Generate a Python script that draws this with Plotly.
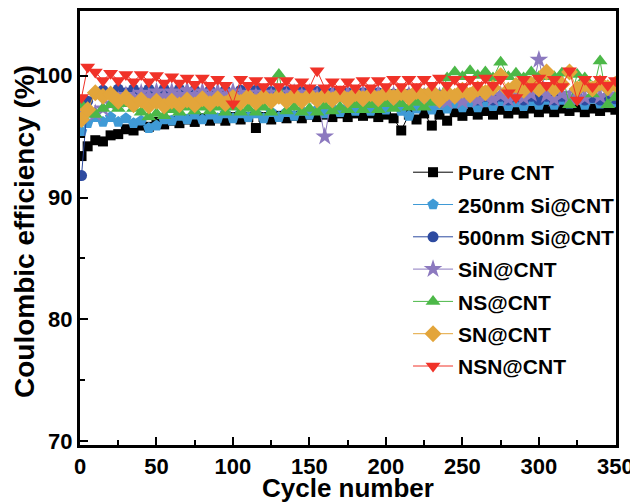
import plotly.graph_objects as go

cycles = [1] + list(range(5, 351, 5))

pure_cnt = [93.4, 94.2, 94.7, 94.6, 95.1, 95.2, 95.6, 95.5, 95.9, 95.8, 96.2, 96.0, 96.3, 96.1, 96.4,
            96.2, 96.5, 96.3, 96.5, 96.3, 96.6, 96.4, 96.6, 95.7, 96.6, 96.4, 96.7, 96.5, 96.7, 96.5,
            96.8, 96.6, 96.8, 96.6, 96.9, 96.6, 96.9, 96.7, 96.9, 96.6, 96.8, 96.5, 95.5, 96.8, 96.4,
            96.9, 95.9, 96.8, 96.3, 97.0, 96.7, 97.1, 96.8, 97.1, 96.8, 97.2, 96.9, 97.2, 96.9, 97.3,
            97.0, 97.3, 97.0, 97.3, 97.1, 97.4, 97.0, 97.3, 97.1, 97.4, 97.2]
si250 = [95.4, 96.1, 96.6, 96.2, 96.6, 96.2, 96.5, 96.1, 96.3, 95.7, 95.9, 96.4, 96.3, 96.7, 96.4,
         96.8, 96.4, 96.8, 96.5, 96.9, 96.5, 96.9, 96.6, 96.9, 96.5, 97.0, 96.6, 97.0, 96.7, 97.1,
         96.8, 97.2, 96.9, 97.3, 97.0, 97.4, 97.1, 97.4, 97.1, 97.5, 97.2, 97.5, 97.1, 96.7, 97.3,
         97.6, 97.2, 97.6, 97.3, 97.7, 97.4, 97.8, 97.4, 97.8, 97.5, 97.9, 97.5, 97.8, 97.5, 97.9,
         97.6, 98.0, 97.6, 98.0, 97.7, 98.0, 97.6, 98.1, 97.7, 98.0, 97.8]
si500 = [91.8, 97.9, 98.5, 98.8, 98.5, 98.9, 98.6, 98.9, 98.6, 98.9, 98.6, 98.9, 98.6, 98.9, 98.6,
         98.8, 98.5, 98.8, 98.5, 98.8, 98.5, 98.8, 98.5, 98.8, 98.4, 98.7, 98.4, 98.7, 98.4, 98.7,
         98.4, 98.7, 98.4, 98.6, 98.3, 98.6, 98.3, 98.6, 98.3, 98.6, 98.3, 98.5, 98.2, 98.5, 98.2,
         98.5, 98.2, 98.4, 98.1, 98.4, 98.1, 98.4, 98.0, 98.3, 98.0, 98.3, 98.0, 98.3, 98.0, 98.3,
         98.0, 98.3, 98.0, 98.3, 98.0, 98.3, 98.0, 98.2, 98.0, 98.3, 98.1]
sin_cnt = [96.8, 97.1, 96.9, 97.3, 97.7, 98.0, 98.4, 98.2, 98.6, 98.3, 98.7, 98.3, 98.7, 98.4, 98.8,
           98.4, 98.7, 98.4, 98.7, 98.4, 98.7, 98.4, 98.6, 98.3, 98.6, 98.3, 98.6, 98.3, 98.6, 98.3,
           98.6, 98.3, 95.0, 98.5, 98.2, 98.5, 98.2, 98.5, 98.2, 98.5, 98.1, 98.4, 98.1, 98.4, 98.0,
           98.3, 98.0, 98.3, 97.9, 98.2, 97.9, 98.2, 98.0, 98.3, 98.1, 98.4, 98.1, 98.4, 98.2, 98.5,
           101.3, 98.4, 98.1, 98.5, 98.2, 98.5, 98.2, 98.6, 98.3, 98.7, 98.4]
ns_cnt = [97.6, 97.1, 96.8, 97.3, 97.6, 97.3, 97.7, 97.3, 97.0, 96.6, 96.9, 96.7, 97.2, 97.0, 97.4,
          97.1, 97.4, 97.1, 97.4, 97.0, 97.4, 97.0, 97.3, 97.0, 97.4, 97.0, 100.1, 97.1, 97.4, 97.0,
          97.3, 97.0, 97.5, 97.1, 97.4, 97.2, 97.6, 97.2, 97.6, 97.2, 97.7, 97.3, 97.7, 97.4, 97.8,
          97.4, 97.8, 98.3, 99.8, 100.3, 99.9, 100.4, 100.0, 100.3, 99.8, 101.1, 99.9, 100.2, 99.8, 100.3,
          99.9, 100.3, 99.9, 100.2, 97.6, 100.1, 99.8, 98.5, 101.2, 97.6, 98.2]
sn_cnt = [96.4, 97.2, 98.6, 98.3, 98.5, 97.9, 98.2, 97.6, 98.0, 97.5, 97.9, 97.5, 97.9, 97.6, 98.0,
          97.6, 98.1, 97.7, 98.1, 97.7, 98.2, 97.8, 98.3, 97.8, 98.3, 97.9, 98.3, 97.9, 98.4, 97.9,
          98.4, 98.0, 98.4, 98.0, 98.5, 98.0, 98.5, 98.1, 98.5, 98.1, 98.6, 98.2, 98.6, 98.2, 98.7,
          98.3, 98.7, 98.0, 98.6, 98.3, 98.8, 98.4, 98.9, 98.6, 99.0, 100.0, 98.8, 99.2, 98.8, 99.3,
          98.9, 100.3, 98.9, 99.3, 100.3, 98.9, 99.3, 98.9, 99.4, 99.0, 99.3]
nsn_cnt = [98.2, 100.7, 100.3, 99.6, 100.2, 99.6, 100.1, 99.5, 100.1, 99.5, 100.0, 99.4, 99.9, 99.4, 99.8,
           99.3, 99.8, 99.2, 99.7, 99.2, 97.7, 99.7, 99.2, 99.6, 99.1, 99.6, 99.1, 99.6, 99.0, 99.5,
           99.0, 100.4, 99.0, 99.5, 98.9, 99.5, 99.0, 99.6, 99.0, 99.6, 99.1, 99.7, 99.1, 99.7, 99.1,
           99.7, 99.2, 99.8, 99.2, 99.7, 99.1, 99.7, 99.2, 99.8, 99.2, 99.7, 98.6, 98.2, 99.7, 99.1,
           99.8, 99.2, 99.7, 99.1, 100.4, 98.0, 99.7, 99.1, 99.7, 99.2, 99.6]

series = [
    ("Pure CNT", pure_cnt, "#000000", "square", 10),
    ("250nm Si@CNT", si250, "#3f9ad6", "pentagon", 12),
    ("500nm Si@CNT", si500, "#2d4aa0", "circle", 11),
    ("SiN@CNT", sin_cnt, "#8c79bf", "star", 14),
    ("NS@CNT", ns_cnt, "#4cb848", "triangle-up", 13),
    ("SN@CNT", sn_cnt, "#e3a53a", "diamond", 13),
    ("NSN@CNT", nsn_cnt, "#f03228", "triangle-down", 13),
]

fig = go.Figure()
for name, vals, color, symbol, size in series:
    fig.add_trace(go.Scatter(
        x=cycles, y=vals, name=name, mode="lines+markers", legendgroup=name,
        line=dict(color=color, width=1),
        marker=dict(symbol=symbol, size=size, color=color, line=dict(width=0)),
    ))

fam = "Arial, Liberation Sans"
tick_font = dict(family=fam, size=22, color="black", weight="bold")
xtitle_font = dict(family=fam, size=26, color="black", weight="bold")
ytitle_font = dict(family=fam, size=28, color="black", weight="bold")

# page body adds an 8px margin, so the figure is 8px smaller than the window
fig.update_layout(
    width=630, height=494,
    margin=dict(l=72, r=22, t=3, b=57),
    plot_bgcolor="white", paper_bgcolor="white",
    font=dict(family=fam, color="black"),
    legend=dict(
        x=0.612, y=0.675, xanchor="left", yanchor="top",
        font=dict(family=fam, size=21, color="black", weight="bold"),
        bgcolor="rgba(0,0,0,0)", tracegroupgap=2, itemwidth=40,
    ),
    annotations=[
        dict(
            text="Coulombic efficiency (%)", textangle=-90, showarrow=False,
            xref="paper", yref="paper", x=0, y=0.5, xanchor="center", yanchor="middle",
            xshift=-56, yshift=-4, font=ytitle_font,
        ),
        dict(
            text="Cycle number", showarrow=False,
            xref="paper", yref="paper", x=0.5, y=0, xanchor="center", yanchor="top",
            yshift=-26, font=xtitle_font,
        ),
    ],
)
fig.update_xaxes(
    range=[0, 350.4], tickvals=[0, 50, 100, 150, 200, 250, 300, 350],
    showline=True, linewidth=3, linecolor="black", mirror=True,
    ticks="inside", ticklen=8, tickwidth=2, tickcolor="black",
    minor=dict(ticks="inside", dtick=25, ticklen=5, tickwidth=2, tickcolor="black"),
    showgrid=False, zeroline=False, tickfont=tick_font, automargin=False,
)
fig.update_yaxes(
    range=[69.7, 105.3], tickvals=[70, 80, 90, 100],
    showline=True, linewidth=3, linecolor="black", mirror=True,
    ticks="inside", ticklen=8, tickwidth=2, tickcolor="black",
    minor=dict(ticks="inside", tickvals=[75, 85, 95], ticklen=5, tickwidth=2, tickcolor="black"),
    showgrid=False, zeroline=False, tickfont=tick_font, automargin=False,
)

fig.write_html("out.html")
